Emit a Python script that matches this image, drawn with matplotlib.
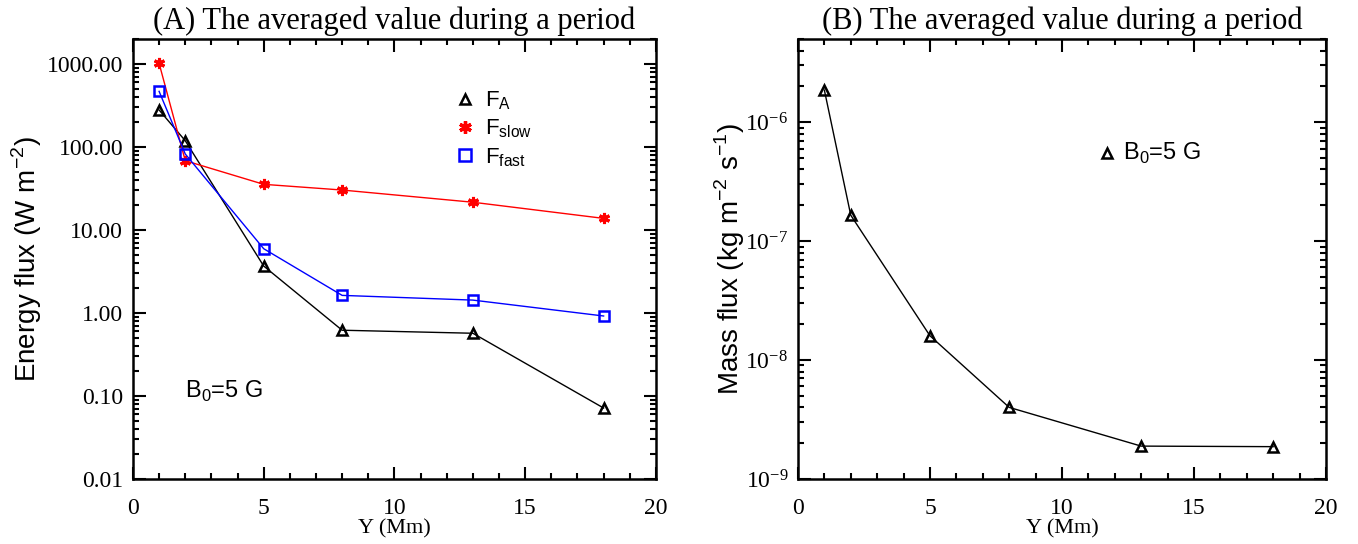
import math
import matplotlib
matplotlib.use("Agg")
import matplotlib.pyplot as plt
from matplotlib.ticker import MultipleLocator, LogLocator, FuncFormatter, NullFormatter
from matplotlib.lines import Line2D

# heights above the footpoint (Mm)
y_mm = [1, 2, 5, 8, 13, 18]

# averaged energy flux (W m^-2)
f_alfven = [279, 119, 3.68, 0.62, 0.57, 0.0716]
f_slow = [1020, 68.4, 35.5, 30.3, 21.6, 13.8]
f_fast = [468, 82.4, 5.95, 1.63, 1.43, 0.92]

# averaged mass flux (kg m^-2 s^-1)
mass_flux = [1.86e-6, 1.65e-7, 1.6e-8, 4.0e-9, 1.89e-9, 1.87e-9]

SERIF = "Liberation Serif"
SANS = "Liberation Sans"

fig = plt.figure(figsize=(13.58, 5.44), dpi=100)
ax1 = fig.add_axes([0.0979, 0.1195, 0.3851, 0.8088])
ax2 = fig.add_axes([0.5876, 0.1195, 0.3888, 0.8088])


def style_axes(ax, ylim, fmt):
    ax.set_yscale("log")
    ax.set_xlim(0, 20)
    ax.set_ylim(*ylim)
    ax.xaxis.set_major_locator(MultipleLocator(5))
    ax.xaxis.set_minor_locator(MultipleLocator(1))
    ax.yaxis.set_major_locator(LogLocator(base=10, numticks=20))
    ax.yaxis.set_minor_locator(LogLocator(base=10, subs=range(2, 10), numticks=20))
    ax.yaxis.set_major_formatter(FuncFormatter(fmt))
    ax.yaxis.set_minor_formatter(NullFormatter())
    ax.tick_params(which="both", direction="in", top=True, right=True, width=1.5,
                   labelfontfamily=SERIF, labelsize=17)
    ax.tick_params(which="major", length=9)
    ax.tick_params(which="minor", length=4.5)
    ax.tick_params(axis="y", which="major", pad=7)
    ax.tick_params(axis="x", which="major", pad=14)
    for s in ax.spines.values():
        s.set_linewidth(1.8)
    ax.set_xlabel("Y (Mm)", fontfamily=SERIF, fontsize=16, labelpad=0)


mk = dict(markersize=7, markeredgewidth=1.8, fillstyle="none")

# (A) energy flux
style_axes(ax1, (0.01, 2000), lambda v, p: f"{v:.2f}")
ax1.plot(y_mm, f_alfven, color="black", lw=1, marker="^", **mk)
ax1.plot(y_mm, f_slow, color="red", lw=1, marker=(6, 2, 0), markersize=8, markeredgewidth=2.2)
ax1.plot(y_mm, f_fast, color="blue", lw=1, marker="s", **mk)
ax1.set_ylabel(r"Energy flux (W m$^\mathregular{-2}$)", fontfamily=SANS, fontsize=20, labelpad=2)
ax1.set_title("(A) The averaged value during a period", fontfamily=SERIF, fontsize=22, pad=7)

handles = [
    Line2D([], [], ls="none", color="black", marker="^", **mk),
    Line2D([], [], ls="none", color="red", marker=(6, 2, 0), markersize=9, markeredgewidth=2.4),
    Line2D([], [], ls="none", color="blue", marker="s", markersize=9, markeredgewidth=1.8, fillstyle="none"),
]
labels = [r"F$_\mathregular{A}$", r"F$_\mathregular{slow}$", r"F$_\mathregular{fast}$"]
ax1.legend(handles, labels, loc="upper left", bbox_to_anchor=(0.6, 0.905), frameon=False,
           prop={"family": SANS, "size": 16}, handlelength=0.8, handletextpad=0.5,
           labelspacing=0.25, borderaxespad=0)
ax1.text(0.1, 0.2, r"B$_\mathregular{0}$=5 G", transform=ax1.transAxes,
         fontfamily=SANS, fontsize=17, va="center")

# (B) mass flux
style_axes(ax2, (1e-9, 5e-6), lambda v, p: r"$\mathregular{10^{%d}}$" % round(math.log10(v)))
ax2.plot(y_mm, mass_flux, color="black", lw=1, marker="^", **mk)
ax2.set_ylabel(r"Mass flux (kg m$^\mathregular{-2}$ s$^\mathregular{-1}$)", fontfamily=SANS,
               fontsize=20, labelpad=-1)
ax2.set_title("(B) The averaged value during a period", fontfamily=SERIF, fontsize=22, pad=7)
ax2.plot([0.585], [0.74], transform=ax2.transAxes, color="black", marker="^", ls="none", **mk)
ax2.text(0.615, 0.74, r"B$_\mathregular{0}$=5 G", transform=ax2.transAxes,
         fontfamily=SANS, fontsize=17, va="center")

fig.savefig("out.png", dpi=100)
